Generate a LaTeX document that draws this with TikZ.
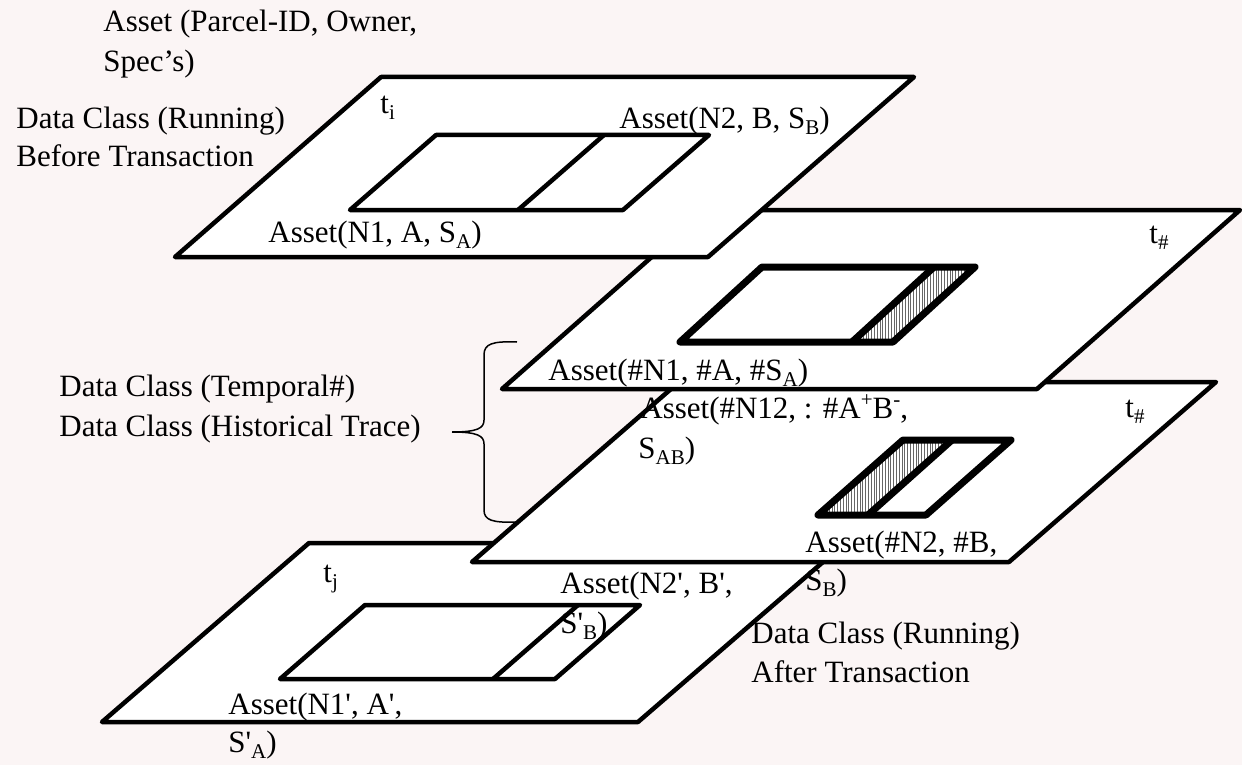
\documentclass[tikz,border=0pt]{standalone}
\usepackage{fontspec}
\setmainfont{Liberation Serif}[Ligatures=TeXOff]
\definecolor{bgtint}{RGB}{251,245,245}
% lowered / raised index text in the style of the labels
\newcommand\lowidx[1]{\raisebox{-0.22em}{\fontsize{10.5}{10.5}\selectfont #1}}
\newcommand\highidx[1]{\raisebox{0.38em}{\fontsize{10.5}{10.5}\selectfont #1}}
\begin{document}
\begin{tikzpicture}[x=0.5pt,y=-0.5pt,
  plane/.style={draw=black,fill=white,line width=2.25pt,line join=round},
  parcel/.style={draw=black,line width=2.25pt,line join=round},
  boldparcel/.style={draw=black,line width=3.5pt,line join=round},
  hatch/.style={draw=black!60,line width=0.45pt},
  bracket/.style={draw=black,line width=0.75pt},
  lbl/.style={anchor=base west,inner sep=0pt,font=\fontsize{15.5}{19}\selectfont}]

% canvas
\fill[bgtint] (0,0) rectangle (1242,765);
\useasboundingbox (0,0) rectangle (1242,765);

% layer t_j : running class after the transaction
\draw[plane] (102,722) -- (638,722) -- (845,543) -- (309,543) -- cycle;
\draw[parcel] (280,679) -- (555,679) -- (640,605) -- (365,605) -- cycle;
\draw[parcel] (493,679) -- (578,605);

% layer t_# : historical trace (lower)
\draw[plane] (472,562) -- (1009,562) -- (1216,382) -- (679,382) -- cycle;
\begin{scope}
  \clip (818,515) -- (868,515) -- (952,440) -- (903,440) -- cycle;
  \foreach \hx in {818,820.8,...,954} \draw[hatch] (\hx,438) -- (\hx,517);
\end{scope}
\draw[boldparcel] (818,515) -- (926,515) -- (1011,440) -- (903,440) -- cycle;
\draw[boldparcel] (868,515) -- (952,440);

% layer t_# : temporal class (upper)
\draw[plane] (502,389) -- (1037,389) -- (1240,210) -- (705,210) -- cycle;
\begin{scope}
  \clip (852,342) -- (893,342) -- (975,267) -- (934,267) -- cycle;
  \foreach \hx in {852,854.8,...,977} \draw[hatch] (\hx,265) -- (\hx,344);
\end{scope}
\draw[boldparcel] (680,342) -- (893,342) -- (975,267) -- (762,267) -- cycle;
\draw[boldparcel] (852,342) -- (934,267);

% layer t_i : running class before the transaction
\draw[plane] (175,257) -- (708,257) -- (914,77) -- (381,77) -- cycle;
\draw[parcel] (350,210) -- (623,210) -- (709,135) -- (436,135) -- cycle;
\draw[parcel] (518,210) -- (604,135);

% brace grouping the two temporal layers
\coordinate (brtop) at (517,342);
\coordinate (brtip) at (452,432);
\coordinate (brbot) at (517,522);
\draw[bracket] (brtop) .. controls (492,341) and (484,344) .. (484,355)
  -- (484,420) .. controls (484,428) and (478,432) .. (brtip);
\draw[bracket] (brtip) .. controls (478,432) and (484,436) .. (484,444)
  -- (484,510) .. controls (484,520) and (492,523) .. (brbot);

% labels
\node[lbl] (schema1) at (103,32) {Asset (Parcel-ID, Owner,};
\node[lbl] (schema2) at (103,72) {Spec’s)};
\node[lbl] (before1) at (16,128) {Data Class (Running)};
\node[lbl] (before2) at (16,167) {Before Transaction};
\node[lbl] (ti) at (380,113) {t\lowidx{i}};
\node[lbl] (n2) at (619,128) {Asset(N2, B, S\lowidx{B})};
\node[lbl] (n1) at (268,242) {Asset(N1, A, S\lowidx{A})};

\node[lbl] (thashA) at (1149,243) {t\lowidx{\#}};
\node[lbl] (hn1) at (548,380) {Asset(\#N1, \#A, \#S\lowidx{A})};
\node[lbl] (temporal) at (59,396) {Data Class (Temporal\#)};
\node[lbl] (trace) at (59,436) {Data Class (Historical Trace)};
\node[lbl] (hn12a) at (640,418) {Asset(\#N12, : \#A\highidx{+}B\highidx{-},};
\node[lbl] (hn12b) at (638,458) {S\lowidx{AB})};
\node[lbl] (thashB) at (1125,417) {t\lowidx{\#}};
\node[lbl] (hn2a) at (805,552) {Asset(\#N2, \#B,};
\node[lbl] (hn2b) at (805,590) {S\lowidx{B})};

\node[lbl] (tj) at (323,582) {t\lowidx{j}};
\node[lbl] (n2pa) at (560,593) {Asset(N2', B',};
\node[lbl] (n2pb) at (560,633) {S'\lowidx{B})};
\node[lbl] (after1) at (751,643) {Data Class (Running)};
\node[lbl] (after2) at (751,682) {After Transaction};
\node[lbl] (n1pa) at (228,714) {Asset(N1', A',};
\node[lbl] (n1pb) at (228,752) {S'\lowidx{A})};
\end{tikzpicture}
\end{document}
